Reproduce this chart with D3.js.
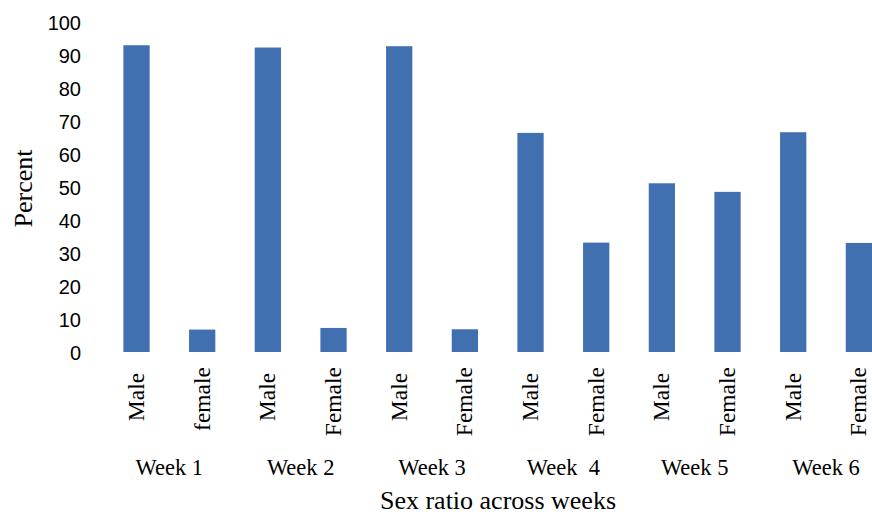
<!DOCTYPE html>
<html>
<head>
<meta charset="utf-8">
<script src="https://cdn.jsdelivr.net/npm/d3@7"></script>
<style>
  html, body { margin: 0; padding: 0; background: #fff; }
  svg { display: block; }
</style>
</head>
<body>
<svg id="chart" width="872" height="514"></svg>
<script>
// Sex ratio per week: one Male and one Female bar per week
const weeks = ["Week 1", "Week 2", "Week 3", "Week  4", "Week 5", "Week 6"];
const sexLabels = ["Male ", "female", "Male ", "Female", "Male ", "Female",
                   "Male ", "Female", "Male ", "Female", "Male ", "Female"];
const percentValues = [93.1, 6.8, 92.4, 7.3, 92.8, 6.9, 66.5, 33.2, 51.2, 48.6, 66.7, 33.1];
const yTicks = [0, 10, 20, 30, 40, 50, 60, 70, 80, 90, 100];

const svg = d3.select("#chart");
const serif = "'Liberation Serif', 'Times New Roman', serif";
const sans = "'Liberation Sans', Arial, sans-serif";

const bars = percentValues.map((v, i) => ({ key: i, label: sexLabels[i], value: v }));

const x = d3.scaleBand()
  .domain(bars.map(d => d.key))
  .range([103.7, 891.7])
  .paddingInner(0.6)
  .paddingOuter(0.3);

const y = d3.scaleLinear().domain([0, 100]).range([352, 22.5]);

// bars
svg.append("g")
  .selectAll("rect")
  .data(bars)
  .join("rect")
  .attr("x", d => x(d.key))
  .attr("y", d => y(d.value))
  .attr("width", x.bandwidth())
  .attr("height", d => y(0) - y(d.value))
  .attr("fill", "#4170b1");

// y axis (labels only)
const yAxis = d3.axisLeft(y).tickValues(yTicks).tickSize(0).tickPadding(0);
const yg = svg.append("g").attr("transform", "translate(81,0)").call(yAxis);
yg.select(".domain").remove();
yg.selectAll("text")
  .attr("font-family", sans)
  .attr("font-size", 20)
  .attr("fill", "#000")
  .attr("dy", "0.36em");

// category labels, rotated
svg.append("g")
  .selectAll("text")
  .data(bars)
  .join("text")
  .attr("xml:space", "preserve")
  .style("white-space", "pre")
  .attr("transform", d => `translate(${x(d.key) + x.bandwidth() / 2},367) rotate(-90)`)
  .attr("text-anchor", "end")
  .attr("dy", "0.32em")
  .attr("font-family", serif)
  .attr("font-size", 23.5)
  .attr("fill", "#000")
  .text(d => d.label);

// week group labels
svg.append("g")
  .selectAll("text")
  .data(weeks)
  .join("text")
  .attr("xml:space", "preserve")
  .style("white-space", "pre")
  .attr("x", (d, i) => (x(2 * i) + x(2 * i + 1) + x.bandwidth()) / 2)
  .attr("y", 475)
  .attr("text-anchor", "middle")
  .attr("font-family", serif)
  .attr("font-size", 22.5)
  .attr("fill", "#000")
  .text(d => d);

// axis titles
svg.append("text")
  .attr("x", 498)
  .attr("y", 509)
  .attr("text-anchor", "middle")
  .attr("font-family", serif)
  .attr("font-size", 26)
  .attr("fill", "#000")
  .text("Sex ratio across weeks");

svg.append("text")
  .attr("transform", "translate(31.5,188.5) rotate(-90)")
  .attr("text-anchor", "middle")
  .attr("font-family", serif)
  .attr("font-size", 26)
  .attr("fill", "#000")
  .text("Percent");
</script>
</body>
</html>
